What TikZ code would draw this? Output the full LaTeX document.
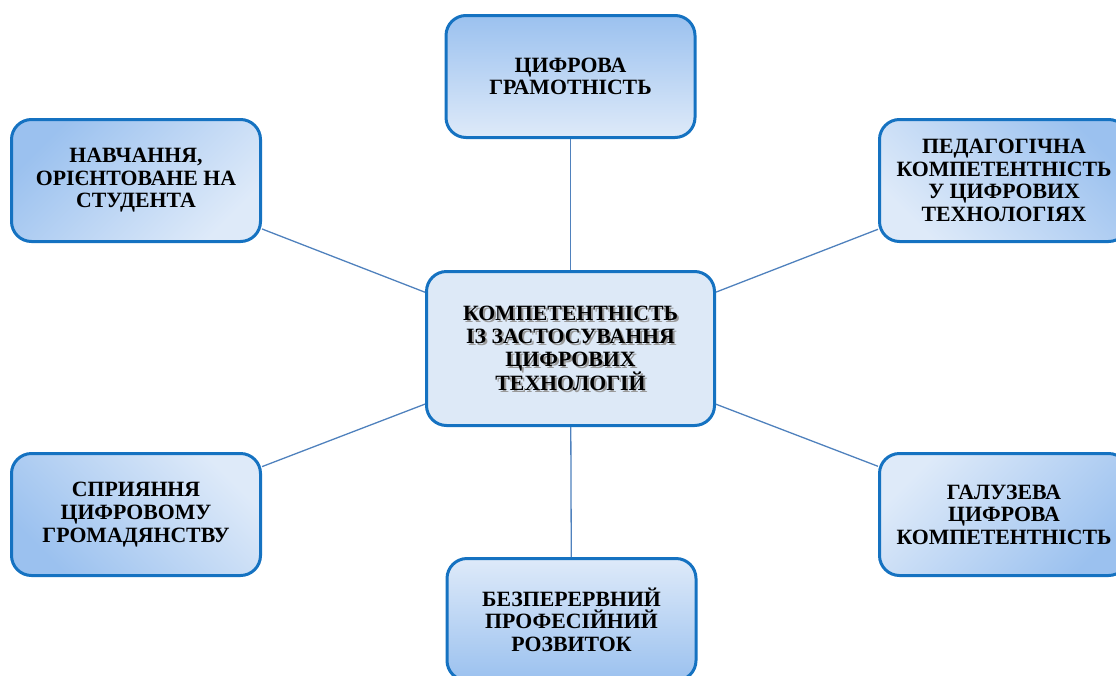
\documentclass[tikz,border=0pt]{standalone}
\usepackage{fontspec}
\setmainfont{Liberation Serif}

\definecolor{rim}{RGB}{21,114,193}
\definecolor{deep}{RGB}{155,193,239}
\definecolor{pale}{RGB}{222,234,249}
\definecolor{hubfill}{RGB}{221,233,247}
\definecolor{wire}{RGB}{79,129,189}

\begin{document}
\begin{tikzpicture}[x=1pt,y=-1pt,
    box/.style={draw=rim, line width=3pt, rounded corners=20pt,
      minimum width=249pt, minimum height=122pt, inner sep=0pt,
      align=center, font=\bfseries\fontsize{21.8}{22.6}\selectfont},
    glow/.style={top color=deep, bottom color=pale, shading angle=#1},
    link/.style={draw=wire, line width=1.3pt}]

    \useasboundingbox (0,0) rectangle (1116,675);

    % центральний блок
    \node[box, fill=hubfill, minimum width=288pt, minimum height=154pt] (C) at (570.5,348.5) {};
    \node[font=\bfseries\fontsize{21.8}{22.6}\selectfont, align=center, text=black!40] at ([shift={(2,2)}]C.center)
      {КОМПЕТЕНТНІСТЬ\\ІЗ ЗАСТОСУВАННЯ\\ЦИФРОВИХ\\ТЕХНОЛОГІЙ};
    \node[font=\bfseries\fontsize{21.8}{22.6}\selectfont, align=center] at (C.center)
      {КОМПЕТЕНТНІСТЬ\\ІЗ ЗАСТОСУВАННЯ\\ЦИФРОВИХ\\ТЕХНОЛОГІЙ};

    % блоки навколо
    \node[box, glow=0] (T) at (570.5,76.5) {ЦИФРОВА\\ГРАМОТНІСТЬ};
    \node[box, glow=45] (LT) at (136,180.5) {НАВЧАННЯ,\\ОРІЄНТОВАНЕ НА\\СТУДЕНТА};
    \node[box, glow=-45] (RT) at (1004,180.5) {ПЕДАГОГІЧНА\\КОМПЕТЕНТНІСТЬ\\У ЦИФРОВИХ\\ТЕХНОЛОГІЯХ};
    \node[box, glow=135] (LB) at (136,514.5) {СПРИЯННЯ\\ЦИФРОВОМУ\\ГРОМАДЯНСТВУ};
    \node[box, glow=-135] (RB) at (1004,514.5) {ГАЛУЗЕВА\\ЦИФРОВА\\КОМПЕТЕНТНІСТЬ};
    \node[box, glow=180] (B) at (571.5,619.5) {БЕЗПЕРЕРВНИЙ\\ПРОФЕСІЙНИЙ\\РОЗВИТОК};

    % лінії
    \foreach \n in {T,LT,RT,LB,RB,B}
      \draw[link] (C) -- (\n);

\end{tikzpicture}
\end{document}
